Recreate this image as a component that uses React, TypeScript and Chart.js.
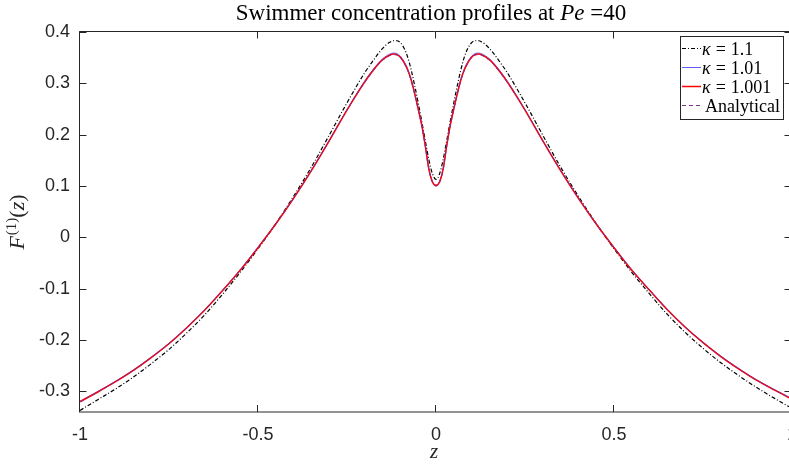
import React, { useEffect, useRef } from "react";
import { Chart, registerables } from "chart.js";

Chart.register(...registerables);

const zValues = [
  -1, -0.95, -0.9, -0.85, -0.8, -0.75, -0.7, -0.65, -0.6, -0.55, -0.5, -0.45, -0.4, -0.35, -0.3, -0.25, -0.2,
  -0.18, -0.16, -0.15, -0.14, -0.13, -0.12, -0.11, -0.1, -0.09, -0.08, -0.07, -0.06, -0.05, -0.04, -0.03, -0.02,
  -0.01, 0, 0.01, 0.02, 0.03, 0.04, 0.05, 0.06, 0.07, 0.08, 0.09, 0.1, 0.11, 0.12, 0.13, 0.14, 0.15, 0.16, 0.18,
  0.2, 0.25, 0.3, 0.35, 0.4, 0.45, 0.5, 0.55, 0.6, 0.65, 0.7, 0.75, 0.8, 0.85, 0.9, 0.95, 1,
];

const kappa1p1 = [
  -0.337, -0.316, -0.295, -0.272, -0.246, -0.218, -0.186, -0.151, -0.111, -0.068, -0.022, 0.027, 0.08, 0.137,
  0.199, 0.262, 0.321, 0.341, 0.36, 0.368, 0.375, 0.38, 0.383, 0.383, 0.379, 0.369, 0.352, 0.327, 0.296, 0.262,
  0.226, 0.188, 0.151, 0.124, 0.113, 0.124, 0.151, 0.188, 0.226, 0.262, 0.296, 0.327, 0.352, 0.369, 0.379, 0.383,
  0.383, 0.38, 0.375, 0.368, 0.36, 0.341, 0.321, 0.262, 0.199, 0.137, 0.08, 0.027, -0.022, -0.068, -0.11, -0.15,
  -0.185, -0.216, -0.244, -0.269, -0.292, -0.313, -0.333,
];

const kappa1p01 = [
  -0.319, -0.3, -0.28, -0.258, -0.233, -0.206, -0.175, -0.141, -0.103, -0.063, -0.019, 0.027, 0.077, 0.131,
  0.189, 0.249, 0.305, 0.324, 0.341, 0.348, 0.353, 0.357, 0.359, 0.358, 0.353, 0.343, 0.329, 0.309, 0.282, 0.251,
  0.219, 0.179, 0.134, 0.109, 0.102, 0.109, 0.134, 0.179, 0.219, 0.251, 0.282, 0.309, 0.329, 0.343, 0.353, 0.358,
  0.359, 0.357, 0.353, 0.348, 0.341, 0.324, 0.305, 0.249, 0.189, 0.131, 0.077, 0.027, -0.019, -0.063, -0.102,
  -0.14, -0.174, -0.204, -0.231, -0.255, -0.277, -0.296, -0.314,
];

const kappa1p001 = [
  -0.32, -0.301, -0.281, -0.259, -0.234, -0.207, -0.176, -0.142, -0.104, -0.064, -0.02, 0.026, 0.076, 0.13,
  0.188, 0.248, 0.303, 0.322, 0.339, 0.346, 0.351, 0.355, 0.357, 0.356, 0.351, 0.341, 0.327, 0.307, 0.28, 0.25,
  0.218, 0.178, 0.133, 0.108, 0.101, 0.108, 0.133, 0.178, 0.218, 0.25, 0.28, 0.307, 0.327, 0.341, 0.351, 0.356,
  0.357, 0.355, 0.351, 0.346, 0.339, 0.322, 0.303, 0.248, 0.188, 0.13, 0.076, 0.026, -0.02, -0.064, -0.103,
  -0.141, -0.175, -0.205, -0.232, -0.256, -0.278, -0.297, -0.315,
];

const analytical = [
  -0.32, -0.301, -0.281, -0.259, -0.234, -0.207, -0.176, -0.142, -0.104, -0.064, -0.02, 0.026, 0.076, 0.13,
  0.188, 0.248, 0.302, 0.321, 0.338, 0.345, 0.35, 0.354, 0.356, 0.355, 0.35, 0.34, 0.326, 0.306, 0.279, 0.249,
  0.217, 0.177, 0.132, 0.107, 0.1, 0.107, 0.132, 0.177, 0.217, 0.249, 0.279, 0.306, 0.326, 0.34, 0.35, 0.355,
  0.356, 0.354, 0.35, 0.345, 0.338, 0.321, 0.302, 0.248, 0.188, 0.13, 0.076, 0.026, -0.02, -0.064, -0.103,
  -0.141, -0.175, -0.205, -0.232, -0.256, -0.278, -0.297, -0.315,
];

const xTicks = [-1, -0.5, 0, 0.5, 1];
const xTickLabels = ["-1", "-0.5", "0", "0.5", "1"];
const yTicks = [-0.3, -0.2, -0.1, 0, 0.1, 0.2, 0.3, 0.4];
const yTickLabels = ["-0.3", "-0.2", "-0.1", "0", "0.1", "0.2", "0.3", "0.4"];

const legendKappas = ["1.1", "1.01", "1.001"];
const legendAnalytical = "Analytical";
const titleMain = "Swimmer concentration profiles at ";
const titleVar = "Pe";
const titleValue = " =40";

const SERIF = '"Liberation Serif", "Times New Roman", serif';
const SANS = '"Liberation Sans", Arial, sans-serif';
const AXIS = "#262626";

const AREA_LEFT = 80;
const AREA_RIGHT = 792;

const COLORS = {
  k1: "#000000",
  k2: "#6060ff",
  k3: "#ff0000",
  an: "#7e2f8e",
};
const DASHES = {
  k1: [4, 2, 1, 2],
  k2: [],
  k3: [],
  an: [4, 3],
};
const WIDTHS = { k1: 1.2, k2: 1, k3: 1.5, an: 1 };

const areaPlugin = {
  id: "area",
  afterLayout(chart: any) {
    const ca = chart.chartArea;
    ca.left = AREA_LEFT;
    ca.right = AREA_RIGHT;
    ca.width = AREA_RIGHT - AREA_LEFT;
    const xs = chart.scales.x;
    xs.left = AREA_LEFT;
    xs.right = AREA_RIGHT;
    xs.width = AREA_RIGHT - AREA_LEFT;
    xs.configure();
    const ys = chart.scales.y;
    ys.right = AREA_LEFT;
    ys.left = 0;
    ys.width = AREA_LEFT;
  },
};

const overlayPlugin = {
  id: "overlay",
  afterDraw(chart: any) {
    const ctx: CanvasRenderingContext2D = chart.ctx;
    const { left, right, top, bottom } = chart.chartArea;
    const xs = chart.scales.x;
    const ys = chart.scales.y;
    ctx.save();
    ctx.setLineDash([]);
    ctx.strokeStyle = AXIS;
    ctx.lineWidth = 1;
    // box
    ctx.beginPath();
    ctx.moveTo(left - 0.5, top - 0.5);
    ctx.lineTo(right, top - 0.5);
    ctx.moveTo(left - 0.5, top - 0.5);
    ctx.lineTo(left - 0.5, bottom);
    ctx.moveTo(right - 0.5, top - 0.5);
    ctx.lineTo(right - 0.5, bottom);
    ctx.stroke();
    ctx.beginPath();
    ctx.moveTo(left - 1, bottom);
    ctx.lineTo(right, bottom);
    ctx.stroke();
    // ticks (inward, mirrored)
    ctx.beginPath();
    xTicks.forEach((v) => {
      const px = Math.round(xs.getPixelForValue(v)) - 0.5;
      ctx.moveTo(px, bottom);
      ctx.lineTo(px, bottom - 7);
      ctx.moveTo(px, top - 0.5);
      ctx.lineTo(px, top + 6.5);
    });
    yTicks.forEach((v) => {
      const py = Math.round(ys.getPixelForValue(v)) + 0.5;
      ctx.moveTo(left - 0.5, py);
      ctx.lineTo(left + 6.5, py);
      ctx.moveTo(right - 0.5, py);
      ctx.lineTo(right - 7.5, py);
    });
    ctx.stroke();

    // title
    ctx.fillStyle = "#000";
    ctx.textBaseline = "alphabetic";
    const tf = `23px ${SERIF}`;
    const tfi = `italic 23px ${SERIF}`;
    ctx.font = tf;
    const w1 = ctx.measureText(titleMain).width;
    const w3 = ctx.measureText(titleValue).width;
    ctx.font = tfi;
    const w2 = ctx.measureText(titleVar).width;
    const tw = w1 + w2 + w3;
    let tx = 431 - tw / 2;
    const ty = 20;
    ctx.textAlign = "left";
    ctx.font = tf;
    ctx.fillText(titleMain, tx, ty);
    tx += w1;
    ctx.font = tfi;
    ctx.fillText(titleVar, tx, ty);
    tx += w2;
    ctx.font = tf;
    ctx.fillText(titleValue, tx, ty);

    // x label
    ctx.fillStyle = AXIS;
    ctx.font = `italic 21px ${SERIF}`;
    ctx.textAlign = "center";
    ctx.fillText("z", 434, 458);

    // y label F^(1)(z)
    ctx.save();
    ctx.translate(24, (top + bottom) / 2);
    ctx.rotate(-Math.PI / 2);
    ctx.textAlign = "left";
    const parts = [
      { t: "F", f: `italic 22px ${SERIF}`, dy: 0 },
      { t: "(1)", f: `15px ${SERIF}`, dy: -8 },
      { t: "(", f: `22px ${SERIF}`, dy: 0 },
      { t: "z", f: `italic 22px ${SERIF}`, dy: 0 },
      { t: ")", f: `22px ${SERIF}`, dy: 0 },
    ];
    let total = 0;
    const widths = parts.map((p) => {
      ctx.font = p.f;
      const w = ctx.measureText(p.t).width;
      total += w;
      return w;
    });
    total += 1;
    let lx = -total / 2;
    parts.forEach((p, i) => {
      ctx.font = p.f;
      ctx.fillText(p.t, lx, p.dy);
      lx += widths[i] + (i === 0 ? 1 : 0);
    });
    ctx.restore();

    // legend
    const bx = 680.5;
    const by = 36.5;
    const bw = 103;
    const bh = 83;
    ctx.fillStyle = "#fff";
    ctx.fillRect(bx, by, bw, bh);
    ctx.strokeStyle = AXIS;
    ctx.lineWidth = 1;
    ctx.strokeRect(bx, by, bw, bh);
    const rows = [
      { key: "k1", label: legendKappas[0] },
      { key: "k2", label: legendKappas[1] },
      { key: "k3", label: legendKappas[2] },
      { key: "an", label: null },
    ];
    rows.forEach((r, i) => {
      const ry = 48.5 + i * 19;
      ctx.save();
      ctx.strokeStyle = (COLORS as any)[r.key];
      ctx.lineWidth = (WIDTHS as any)[r.key];
      ctx.setLineDash((DASHES as any)[r.key]);
      ctx.beginPath();
      ctx.moveTo(682, ry);
      ctx.lineTo(701, ry);
      ctx.stroke();
      ctx.restore();
      ctx.fillStyle = "#000";
      ctx.textAlign = "left";
      const by2 = ry + 6;
      if (r.label) {
        ctx.font = `italic 18px ${SERIF}`;
        ctx.fillText("κ", 702, by2);
        const kw = ctx.measureText("κ").width;
        ctx.font = `18px ${SERIF}`;
        let x2 = 702 + kw + 5;
        ctx.fillText("=", x2, by2);
        x2 += ctx.measureText("=").width + 5;
        ctx.fillText(r.label, x2, by2);
      } else {
        ctx.font = `18px ${SERIF}`;
        ctx.fillText(legendAnalytical, 705, by2);
      }
    });
    ctx.restore();
  },
};

export default function App() {
  const ref = useRef<HTMLCanvasElement | null>(null);
  useEffect(() => {
    if (!ref.current) return;
    const mk = (vals: number[]) => zValues.map((z, i) => ({ x: z, y: vals[i] }));
    const chart = new Chart(ref.current, {
      type: "line",
      data: {
        datasets: [
          {
            label: "κ = 1.1",
            data: mk(kappa1p1),
            borderColor: COLORS.k1,
            borderWidth: WIDTHS.k1,
            borderDash: DASHES.k1,
            pointRadius: 0,
            cubicInterpolationMode: "monotone",
            order: 4,
          },
          {
            label: "κ = 1.01",
            data: mk(kappa1p01),
            borderColor: COLORS.k2,
            borderWidth: WIDTHS.k2,
            pointRadius: 0,
            cubicInterpolationMode: "monotone",
            order: 3,
          },
          {
            label: "κ = 1.001",
            data: mk(kappa1p001),
            borderColor: COLORS.k3,
            borderWidth: WIDTHS.k3,
            pointRadius: 0,
            cubicInterpolationMode: "monotone",
            order: 2,
          },
          {
            label: "Analytical",
            data: mk(analytical),
            borderColor: COLORS.an,
            borderWidth: WIDTHS.an,
            borderDash: DASHES.an,
            pointRadius: 0,
            cubicInterpolationMode: "monotone",
            order: 1,
          },
        ],
      },
      options: {
        animation: false,
        responsive: false,
        devicePixelRatio: 1,
        layout: { autoPadding: false, padding: { top: 32, right: 0, bottom: 0, left: 0 } },
        plugins: { legend: { display: false }, title: { display: false }, tooltip: { enabled: false } },
        scales: {
          x: {
            type: "linear",
            min: -1,
            max: 1,
            grid: { display: false, drawTicks: false },
            border: { display: false },
            afterBuildTicks: (s: any) => {
              s.ticks = xTicks.map((v) => ({ value: v }));
            },
            afterFit: (s: any) => {
              s.height = 52;
            },
            ticks: {
              padding: 12,
              maxRotation: 0,
              autoSkip: false,
              color: AXIS,
              font: { family: SANS, size: 18 },
              callback: (v: any) => xTickLabels[xTicks.indexOf(Number(v))] ?? "",
            },
          },
          y: {
            type: "linear",
            min: -0.34,
            max: 0.4,
            grid: { display: false, drawTicks: false },
            border: { display: false },
            afterBuildTicks: (s: any) => {
              s.ticks = yTicks.map((v) => ({ value: v }));
            },
            afterFit: (s: any) => {
              s.width = 80;
            },
            ticks: {
              padding: 10,
              autoSkip: false,
              color: AXIS,
              font: { family: SANS, size: 18 },
              callback: (v: any) => {
                const i = yTicks.findIndex((t) => Math.abs(t - Number(v)) < 1e-9);
                return i >= 0 ? yTickLabels[i] : "";
              },
            },
          },
        },
      },
      plugins: [areaPlugin, overlayPlugin],
    } as any);
    return () => chart.destroy();
  }, []);
  return (
    <div
      style={{
        position: "fixed",
        left: 0,
        top: 0,
        width: 789,
        height: 464,
        overflow: "hidden",
        background: "#fff",
      }}
    >
      <canvas ref={ref} width={789} height={464} style={{ width: 789, height: 464, display: "block" }} />
    </div>
  );
}
